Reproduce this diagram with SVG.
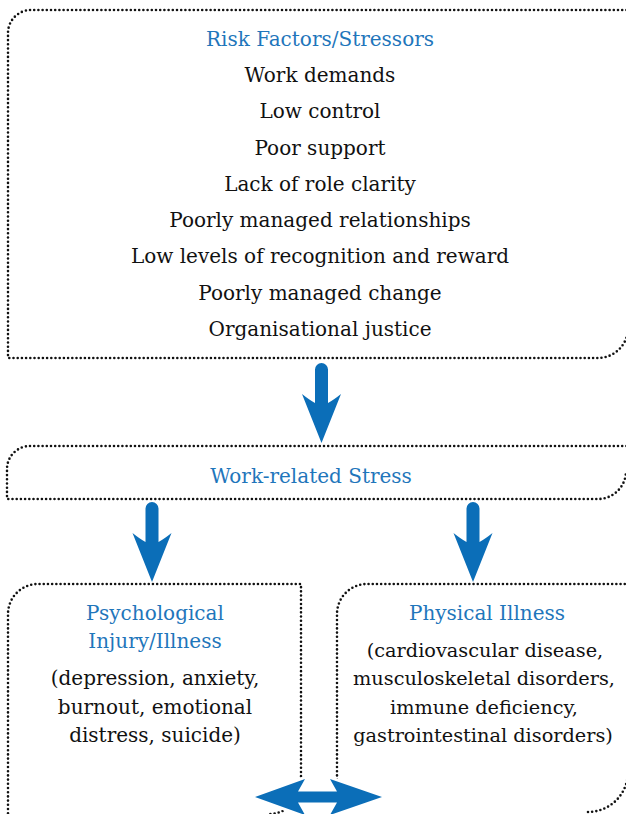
<svg xmlns="http://www.w3.org/2000/svg" width="626" height="814" viewBox="0 0 626 814">
<style>
.box{fill:none;stroke:#111;stroke-width:2.6;stroke-linecap:round;stroke-dasharray:0 4.2}
.t{font-family:"DejaVu Serif","Liberation Serif",serif;font-size:20px;fill:#111;text-anchor:middle}
.s{font-size:19.3px}
.h{fill:#1f76bb}
.arr{fill:#0b6eb8}
</style>
<defs>
<path id="down" d="M0 0 L-19.5 -49 Q-12 -43 -6.5 -40 L-6.5 -73.5 A6.5 6.5 0 0 1 6.5 -73.5 L6.5 -40 Q12 -43 19.5 -49 Z"/>
</defs>
<rect width="626" height="814" fill="#fff"/>
<g id="risk-factors">
<path class="box" d="M660 10 L31 10 A23 23 0 0 0 8 33 L8 358 L598 358 A30 30 0 0 0 628 328"/>
<text class="t h" x="320" y="46">Risk Factors/Stressors</text>
<text class="t" x="320" y="82">Work demands</text>
<text class="t" x="320" y="118">Low control</text>
<text class="t" x="320" y="155">Poor support</text>
<text class="t" x="320" y="191">Lack of role clarity</text>
<text class="t" x="320" y="227">Poorly managed relationships</text>
<text class="t" x="320" y="263">Low levels of recognition and reward</text>
<text class="t" x="320" y="300">Poorly managed change</text>
<text class="t" x="320" y="336">Organisational justice</text>
</g>
<g id="work-stress">
<path class="box" d="M660 446 L30 446 A23 23 0 0 0 7 469 L7 499 L598 499 A28 28 0 0 0 626 471"/>
<text class="t h" x="311" y="483">Work-related Stress</text>
</g>
<g id="psychological">
<path class="box" d="M8 830 L8 614 A30 30 0 0 1 38 584 L301 584 L301 782 A32 32 0 0 1 269 814"/>
<text class="t h" x="155" y="620">Psychological</text>
<text class="t h" x="155" y="648">Injury/Illness</text>
<text class="t" x="155" y="685">(depression, anxiety,</text>
<text class="t" x="155" y="714">burnout, emotional</text>
<text class="t" x="155" y="742">distress, suicide)</text>
</g>
<g id="physical">
<path class="box" d="M337 830 L337 614 A30 30 0 0 1 367 584 L660 584 M588 812 A40 40 0 0 0 628 772"/>
<text class="t h" x="487" y="620">Physical Illness</text>
<text class="t s" x="485" y="657">(cardiovascular disease,</text>
<text class="t s" x="484" y="685">musculoskeletal disorders,</text>
<text class="t s" x="484" y="714">immune deficiency,</text>
<text class="t s" x="483" y="742">gastrointestinal disorders)</text>
</g>
<g id="connectors">
<use href="#down" class="arr" x="321.5" y="443"/>
<use href="#down" class="arr" x="152" y="582"/>
<use href="#down" class="arr" x="473" y="582"/>
<path class="arr" stroke="#fff" stroke-width="6" paint-order="stroke" stroke-linejoin="round" d="M255 797 L305 779 L298 791.5 L337 791.5 L330 779 L382 797 L330 815 L337 802.5 L298 802.5 L305 815 Z"/>
</g>
</svg>
